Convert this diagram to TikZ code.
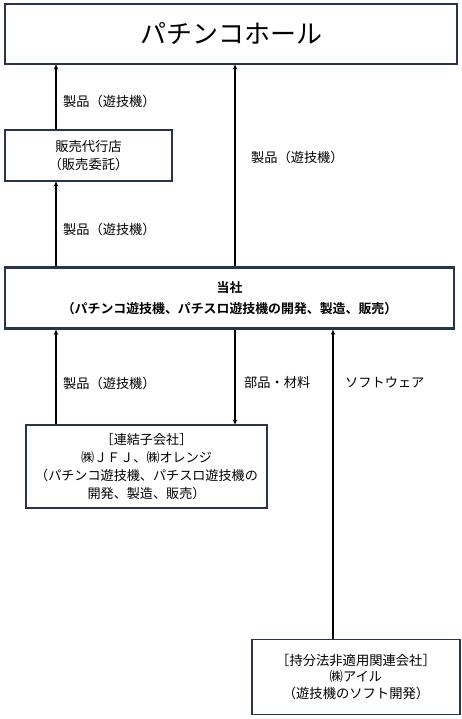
\documentclass[tikz,border=0pt]{standalone}
\usepackage{fontspec}
\setmainfont{Noto Sans CJK JP}
\newfontfamily\jpbold{Noto Sans CJK JP}[BoldFont={* Bold}]
\usetikzlibrary{arrows.meta}
\definecolor{boxc}{RGB}{38,52,78}
\tikzset{
  x=1pt, y=-1pt,
  box/.style={draw=boxc, line width=1.1pt, rectangle, inner sep=0pt, align=center},
  arr/.style={line width=1.4pt, -{Stealth[length=5pt,width=4.5pt]}},
  lbl/.style={anchor=west, inner sep=0pt, font=\fontsize{13.2}{15}\selectfont}
}
\begin{document}
\begin{tikzpicture}
\useasboundingbox[fill=white] (0,0) rectangle (462,719);
\node[box, minimum width=452pt, minimum height=60pt, font=\fontsize{26}{30}\selectfont] (hall) at (231,34) {パチンコホール};
\node[box, minimum width=167pt, minimum height=51pt, font=\fontsize{13.3}{17.5}\selectfont] (hanbai) at (88.5,155.5) {販売代行店\\（販売委託）};
\node[box, line width=2.6pt, minimum width=449pt, minimum height=61pt, font=\jpbold\bfseries\fontsize{12.9}{20.5}\selectfont] (tousha) at (229.5,298) {当社\\（パチンコ遊技機、パチスロ遊技機の開発、製造、販売）};
\node[box, minimum width=241pt, minimum height=83pt, font=\fontsize{13.1}{17.8}\selectfont] (renketsu) at (146.5,466.5) {［連結子会社］\\㈱ＪＦＪ、㈱オレンジ\\（パチンコ遊技機、パチスロ遊技機の\\開発、製造、販売）};
\node[box, minimum width=208pt, minimum height=75pt, font=\fontsize{13.3}{16.8}\selectfont] (ail) at (356,677) {［持分法非適用関連会社］\\㈱アイル\\（遊技機のソフト開発）};
\coordinate (xa) at (56,0);
\coordinate (xb) at (235,0);
\coordinate (xc) at (333,0);
\draw[arr] (hanbai.north -| xa) -- (hall.south -| xa);
\draw[arr] (tousha.north -| xa) -- (hanbai.south -| xa);
\draw[arr] (tousha.north -| xb) -- (hall.south -| xb);
\draw[arr] (renketsu.north -| xa) -- (tousha.south -| xa);
\draw[arr] (tousha.south -| xb) -- (renketsu.north -| xb);
\draw[arr] (ail.north -| xc) -- (tousha.south -| xc);
\node[lbl] (l1) at (63,101) {製品（遊技機）};
\node[lbl] (l2) at (251,157) {製品（遊技機）};
\node[lbl] (l3) at (63,229) {製品（遊技機）};
\node[lbl] (l4) at (63,383) {製品（遊技機）};
\node[lbl] (l5) at (244,382) {部品・材料};
\node[lbl] (l6) at (345,382) {ソフトウェア};
\end{tikzpicture}
\end{document}
